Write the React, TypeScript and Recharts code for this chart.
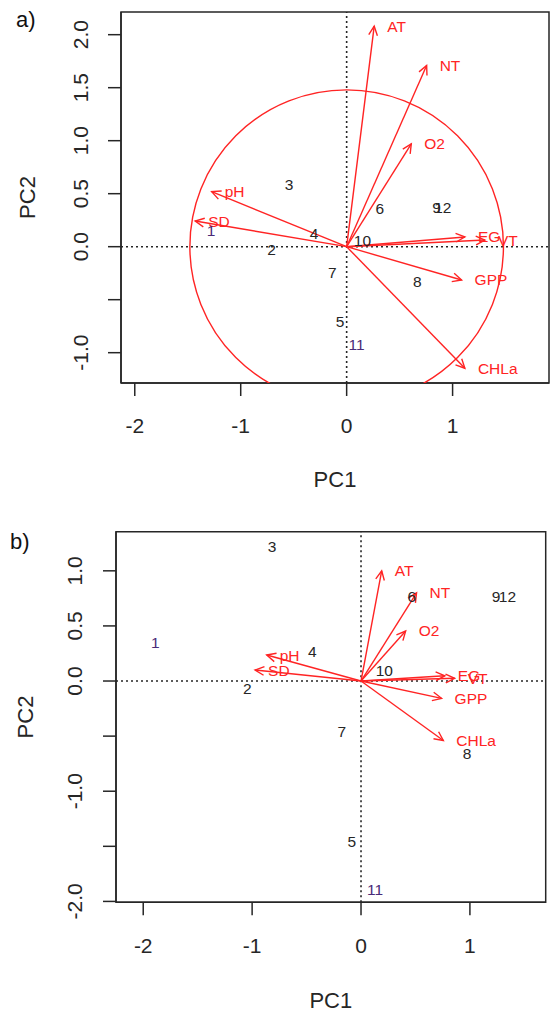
import React from "react";
import {
  ScatterChart,
  Scatter,
  XAxis,
  YAxis,
  ReferenceLine,
  ReferenceArea,
} from "recharts";

const RED = "#ff2424";
const INK = "#262626";
const FONT = "'Liberation Sans', Arial, Helvetica, sans-serif";

// site numbers (same in both panels)
const siteNames = ["1", "2", "3", "4", "5", "6", "7", "8", "9", "10", "11", "12"];
// purple-ish sites in the original
const purpleSites = ["1", "11"];

// environmental variables
const varNames = ["AT", "NT", "O2", "EG", "VT", "GPP", "CHLa", "pH", "SD"];

// panel a) scores
const sitesA_PC1 = [-1.28, -0.708, -0.544, -0.308, -0.063, 0.314, -0.136, 0.666, 0.849, 0.149, 0.094, 0.908];
const sitesA_PC2 = [0.148, -0.025, 0.582, 0.12, -0.708, 0.362, -0.245, -0.324, 0.365, 0.063, -0.927, 0.365];
const varsA_PC1 = [0.26, 0.755, 0.61, 1.116, 1.305, 1.085, 1.116, -1.274, -1.43];
const varsA_PC2 = [2.08, 1.71, 0.97, 0.092, 0.063, -0.314, -1.147, 0.519, 0.242];
const circleRadiusA = 1.48;

// panel b) scores
const sitesB_PC1 = [-1.89, -1.044, -0.817, -0.447, -0.085, 0.466, -0.177, 0.975, 1.24, 0.214, 0.129, 1.345];
const sitesB_PC2 = [0.35, -0.066, 1.225, 0.266, -1.452, 0.766, -0.46, -0.656, 0.77, 0.1, -1.888, 0.77];
const varsB_PC1 = [0.19, 0.51, 0.41, 0.77, 0.86, 0.74, 0.756, -0.866, -0.973];
const varsB_PC2 = [1.0, 0.8, 0.454, 0.048, 0.025, -0.157, -0.54, 0.236, 0.1];

// axes
const xTicks = [-2, -1, 0, 1];
const yTicksA = [2.0, 1.5, 1.0, 0.5, 0.0, -0.5, -1.0];
const yLabelledA = [2.0, 1.5, 1.0, 0.5, 0.0, -1.0];
const yTicksB = [1.0, 0.5, 0.0, -0.5, -1.0, -1.5, -2.0];
const yLabelledB = [1.0, 0.5, 0.0, -1.0, -2.0];

const arrowLine = (p: any) => {
  const pts = p.points;
  if (!pts || pts.length < 2) return <g />;
  const a = pts[0];
  const b = pts[1];
  const ang = Math.atan2(b.y - a.y, b.x - a.x);
  const len = 10;
  const spread = 0.45;
  const l = [b.x - len * Math.cos(ang - spread), b.y - len * Math.sin(ang - spread)];
  const r = [b.x - len * Math.cos(ang + spread), b.y - len * Math.sin(ang + spread)];
  return (
    <g>
      <line x1={a.x} y1={a.y} x2={b.x} y2={b.y} stroke={RED} strokeWidth={1.4} />
      <polyline
        points={`${l[0]},${l[1]} ${b.x},${b.y} ${r[0]},${r[1]}`}
        fill="none"
        stroke={RED}
        strokeWidth={1.4}
      />
    </g>
  );
};

const circleLine = (p: any) => {
  const pts = p.points;
  if (!pts || pts.length < 2) return <g />;
  const rad = Math.abs(pts[1].x - pts[0].x);
  return <circle cx={pts[0].x} cy={pts[0].y} r={rad} fill="none" stroke={RED} strokeWidth={1.4} />;
};

const varLabel = (p: any) => {
  if (!p.payload || !p.payload.name) return <g />;
  return (
    <text
      x={p.cx + 13}
      y={p.cy}
      fill={RED}
      fontSize={15.5}
      fontFamily={FONT}
      textAnchor="start"
      dominantBaseline="central"
    >
      {p.payload.name}
    </text>
  );
};

const siteLabel = (p: any) => (
  <text
    x={p.cx}
    y={p.cy}
    fill={purpleSites.includes(p.payload.name) ? "#4a2a78" : INK}
    fontSize={15.5}
    fontFamily={FONT}
    textAnchor="middle"
    dominantBaseline="central"
  >
    {p.payload.name}
  </text>
);

const noShape = () => <g />;

type PanelProps = {
  height: number;
  margin: { top: number; right: number; bottom: number; left: number };
  xDomain: [number, number];
  yDomain: [number, number];
  yTicks: number[];
  yLabelled: number[];
  sx: number[];
  sy: number[];
  vx: number[];
  vy: number[];
  circle?: number;
  xTickDy: number;
  yTickDx: number;
  xTitleDy: number;
  yTitleDx: number;
};

function Biplot(props: PanelProps) {
  const { xDomain, yDomain } = props;
  const sites = siteNames.map((n, i) => ({ x: props.sx[i], y: props.sy[i], name: n }));
  const arrows = varNames.map((n, i) => [
    { x: 0, y: 0 },
    { x: props.vx[i], y: props.vy[i], name: n },
  ]);

  const XTick = (t: any) => (
    <text
      x={t.x}
      y={t.y + props.xTickDy}
      textAnchor="middle"
      dominantBaseline="central"
      fontSize={21}
      fontFamily={FONT}
      fill={INK}
    >
      {t.payload.value}
    </text>
  );

  const YTick = (t: any) => {
    const v = t.payload.value;
    if (!props.yLabelled.some((l) => Math.abs(l - v) < 1e-9)) return <g />;
    const cx = t.x - props.yTickDx;
    return (
      <text
        x={cx}
        y={t.y}
        transform={`rotate(-90, ${cx}, ${t.y})`}
        textAnchor="middle"
        dominantBaseline="central"
        fontSize={21}
        fontFamily={FONT}
        fill={INK}
      >
        {Number(v).toFixed(1)}
      </text>
    );
  };

  const xTitle = (lp: any) => {
    const vb = lp.viewBox;
    if (!vb) return null;
    return (
      <text
        x={vb.x + vb.width / 2}
        y={vb.y + props.xTitleDy}
        textAnchor="middle"
        dominantBaseline="central"
        fontSize={22}
        fontFamily={FONT}
        fill={INK}
      >
        PC1
      </text>
    );
  };

  const yTitle = (lp: any) => {
    const vb = lp.viewBox;
    if (!vb) return null;
    const cx = vb.x + vb.width - props.yTitleDx;
    const cy = vb.y + vb.height / 2;
    return (
      <text
        x={cx}
        y={cy}
        transform={`rotate(-90, ${cx}, ${cy})`}
        textAnchor="middle"
        dominantBaseline="central"
        fontSize={22}
        fontFamily={FONT}
        fill={INK}
      >
        PC2
      </text>
    );
  };

  return (
    <ScatterChart width={550} height={props.height} margin={props.margin}>
      <XAxis
        type="number"
        dataKey="x"
        domain={xDomain}
        allowDataOverflow
        ticks={xTicks}
        tick={XTick}
        tickSize={13}
        tickMargin={0}
        tickLine={{ stroke: INK, strokeWidth: 1.5 }}
        axisLine={{ stroke: INK, strokeWidth: 1.5 }}
        height={40}
        label={{ content: xTitle }}
      />
      <YAxis
        type="number"
        dataKey="y"
        domain={yDomain}
        allowDataOverflow
        ticks={props.yTicks}
        tick={YTick}
        tickSize={13}
        tickMargin={0}
        tickLine={{ stroke: INK, strokeWidth: 1.5 }}
        axisLine={{ stroke: INK, strokeWidth: 1.5 }}
        width={40}
        label={{ content: yTitle }}
      />
      <ReferenceArea
        x1={xDomain[0]}
        x2={xDomain[1]}
        y1={yDomain[0]}
        y2={yDomain[1]}
        fill="none"
        fillOpacity={0}
        stroke={INK}
        strokeWidth={1.5}
      />
      <ReferenceLine x={0} stroke={INK} strokeWidth={1.6} strokeDasharray="2 3" />
      <ReferenceLine y={0} stroke={INK} strokeWidth={1.6} strokeDasharray="2 3" />
      {props.circle !== undefined && (
        <Scatter
          data={[
            { x: 0, y: 0 },
            { x: props.circle, y: 0 },
          ]}
          line={circleLine}
          shape={noShape}
          isAnimationActive={false}
        />
      )}
      {arrows.map((a, i) => (
        <Scatter
          key={varNames[i]}
          data={a}
          line={arrowLine}
          shape={varLabel}
          isAnimationActive={false}
        />
      ))}
      <Scatter data={sites} shape={siteLabel} isAnimationActive={false} />
    </ScatterChart>
  );
}

export default function App() {
  return (
    <div
      style={{
        position: "absolute",
        left: 0,
        top: 0,
        width: 550,
        height: 1012,
        background: "#fff",
        fontFamily: FONT,
      }}
    >
      <div style={{ position: "absolute", left: 0, top: 0 }}>
        <Biplot
          height={500}
          margin={{ top: 12, right: 1, bottom: 77, left: 81 }}
          xDomain={[-2.13, 1.91]}
          yDomain={[-1.286, 2.214]}
          yTicks={yTicksA}
          yLabelled={yLabelledA}
          sx={sitesA_PC1}
          sy={sitesA_PC2}
          vx={varsA_PC1}
          vy={varsA_PC2}
          circle={circleRadiusA}
          xTickDy={29}
          yTickDx={27}
          xTitleDy={96}
          yTitleDx={94}
        />
      </div>
      <div style={{ position: "absolute", left: 0, top: 500 }}>
        <Biplot
          height={512}
          margin={{ top: 31.7, right: 4.3, bottom: 69.7, left: 76 }}
          xDomain={[-2.25, 1.696]}
          yDomain={[-2.008, 1.355]}
          yTicks={yTicksB}
          yLabelled={yLabelledB}
          sx={sitesB_PC1}
          sy={sitesB_PC2}
          vx={varsB_PC1}
          vy={varsB_PC2}
          xTickDy={30}
          yTickDx={28}
          xTitleDy={98}
          yTitleDx={91}
        />
      </div>
      <svg
        width={550}
        height={1012}
        style={{ position: "absolute", left: 0, top: 0, pointerEvents: "none" }}
      >
        <text x={16} y={27} fontSize={22} fontFamily={FONT} fill="#111">
          a)
        </text>
        <text x={10} y={549} fontSize={22} fontFamily={FONT} fill="#111">
          b)
        </text>
      </svg>
    </div>
  );
}
